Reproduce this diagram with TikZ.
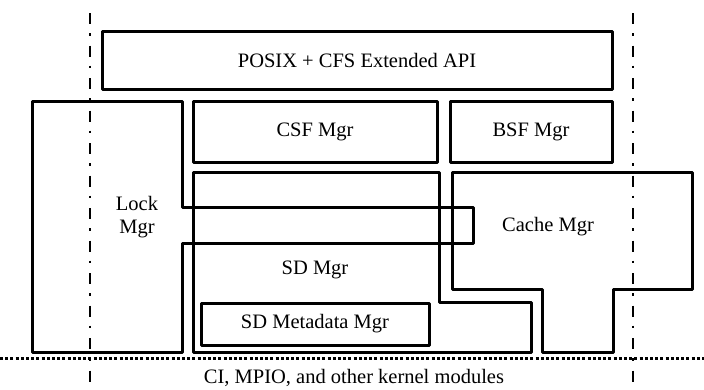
\documentclass[tikz,border=0pt]{standalone}
\usepackage{fontspec}
\setmainfont{Liberation Serif}
\usepackage{tikz}
\usetikzlibrary{positioning}
\tikzset{
  mgr/.style={draw=black,line width=3pt,line join=round,align=center,font=\fontsize{20.5}{23}\selectfont,inner sep=0pt},
  blk/.style={draw=black,line width=3pt,line join=round},
  lbl/.style={font=\fontsize{20.5}{23}\selectfont,align=center,inner sep=0pt},
  axis/.style={black,line width=2.8pt,dash pattern=on 11pt off 9pt on 2.5pt off 10pt},
  kern/.style={black,line width=3pt,dash pattern=on 3pt off 2.2pt},
}
\begin{document}
\begin{tikzpicture}[x=1pt,y=-1pt]
  \useasboundingbox (0,0) rectangle (704,389);
  % boundary lines
  \coordinate (ltop) at (90,13);  \coordinate (lbot) at (90,389);
  \coordinate (rtop) at (633,13); \coordinate (rbot) at (633,389);
  \coordinate (kl) at (0,358);    \coordinate (kr) at (704,358);
  \draw[axis] (ltop) -- (lbot);
  \draw[axis] (rtop) -- (rbot);
  \draw[kern] (kl) -- (kr);
  % top layers
  \node[mgr,minimum width=510pt,minimum height=58pt] (api) at (357,60) {POSIX + CFS Extended API};
  \node[mgr,minimum width=244pt,minimum height=61pt] (csf) at (315,131.5) {CSF Mgr};
  \node[mgr,minimum width=162pt,minimum height=61pt] (bsf) at (531,131.5) {BSF Mgr};
  % lock manager
  \draw[blk] (32,101) -- (182,101) -- (182,207) -- (473,207) -- (473,243)
    -- (182,243) -- (182,352) -- (32,352) -- cycle;
  \node[lbl] (lock) at (137,217) {Lock\\Mgr};
  % storage device manager
  \draw[blk] (193,172) -- (439,172) -- (439,302) -- (531,302) -- (531,352)
    -- (193,352) -- cycle;
  \node[lbl] (sd) at (315,270) {SD Mgr};
  \node[mgr,minimum width=228pt,minimum height=42pt] (meta) at (315,324) {SD Metadata Mgr};
  % cache manager
  \draw[blk] (452,172) -- (692,172) -- (692,289) -- (613,289) -- (613,352)
    -- (542,352) -- (542,289) -- (452,289) -- cycle;
  \node[lbl] (cache) at (548,227) {Cache Mgr};
  % kernel side
  \node[lbl] (ci) at (354,378) {CI, MPIO, and other kernel modules};
\end{tikzpicture}
\end{document}
